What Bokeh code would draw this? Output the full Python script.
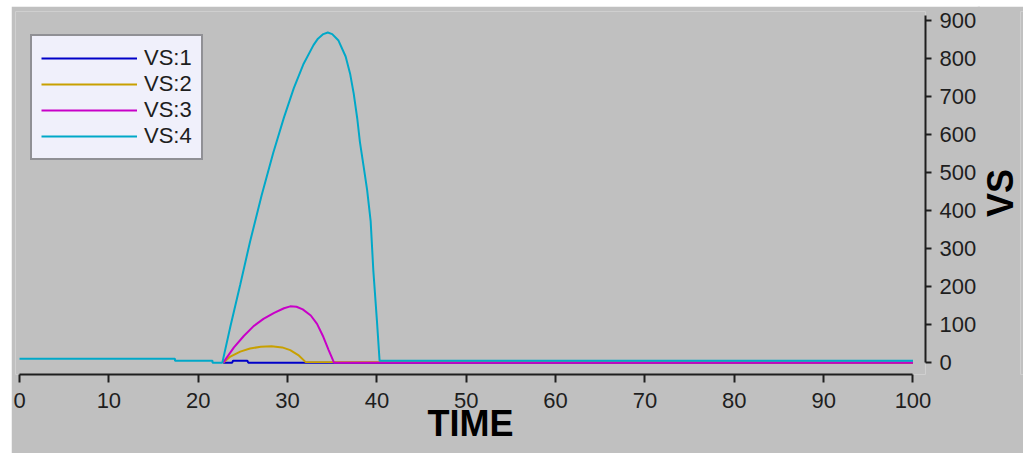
from bokeh.plotting import figure
from bokeh.layouts import row
from bokeh.models import Range1d, FixedTicker, Legend, LegendItem, Title
from bokeh.embed import file_html
from bokeh.resources import INLINE

# ---- data ----
t1 = [22.8, 23.8, 23.9, 25.5, 25.6, 100]
v1 = [0, 0, 5, 5, 0, 0]

t2 = [22.8, 23.6, 24.7, 25.8, 27.0, 28.2, 29.4, 30.3, 31.2, 32.0, 100]
v2 = [0, 16, 29, 37, 42, 43, 40, 33, 20, 2, 0]

t3 = [22.8, 24.0, 25.1, 26.2, 27.3, 28.5, 29.6, 30.3, 31.0, 31.7, 32.6, 33.3, 34.0, 34.6, 35.2, 100]
v3 = [0, 40, 70, 96, 115, 131, 143, 148, 147, 140, 124, 102, 68, 33, 0, 0]

t4 = [0, 17.4, 17.4, 21.6, 21.6, 22.7, 23.6, 24.7, 25.8, 27.1, 28.4, 29.6, 30.7, 31.8,
      32.9, 33.4, 34.0, 34.5, 35.0, 35.7, 36.5, 37.0, 37.4, 37.8, 38.1, 38.5, 38.9,
      39.3, 39.6, 40.0, 40.3, 100]
v4 = [10, 10, 5, 5, 0, 0, 95, 205, 318, 440, 552, 645, 722, 786,
      835, 852, 864, 868, 864, 847, 805, 760, 708, 642, 580, 518, 455,
      372, 242, 111, 5, 5]

series_names = ["VS:1", "VS:2", "VS:3", "VS:4"]
series_colors = ["#0000c8", "#c8a000", "#c800c8", "#00a8c8"]

x_ticks = [0, 10, 20, 30, 40, 50, 60, 70, 80, 90, 100]
y_ticks = [0, 100, 200, 300, 400, 500, 600, 700, 800, 900]
x_title = "TIME"
y_title = "VS"

GREY = "#c0c0c0"
INK = "#1e1e1e"
FONT = "Liberation Sans"

fig = figure(width=969, height=447, margin=(6, 0, 0, 11),
             x_range=Range1d(-0.45, 101.4), y_range=Range1d(-31.2, 923.4),
             output_backend="svg", toolbar_location=None,
             y_axis_location="right",
             min_border_left=4, min_border_right=55, min_border_top=5, min_border_bottom=75,
             background_fill_color=GREY, border_fill_color=GREY,
             outline_line_color=None)
fig.grid.visible = False

renderers = []
for t, v, c in zip([t1, t2, t3, t4], [v1, v2, v3, v4], series_colors):
    r = fig.line(t, v, line_color=c, line_width=2)
    renderers.append(r)

# x axis
xa = fig.xaxis[0]
xa.bounds = (0, 100)
xa.ticker = FixedTicker(ticks=x_ticks)
xa.major_tick_in = 0
xa.major_tick_out = 8
xa.minor_tick_line_color = None
xa.axis_line_width = 2
xa.major_tick_line_width = 2
xa.axis_line_color = INK
xa.major_tick_line_color = INK
xa.major_label_text_font = FONT
xa.major_label_text_font_size = "22px"
xa.major_label_text_color = INK
xa.major_label_standoff = 10
xa.axis_label = x_title
xa.axis_label_text_font = FONT
xa.axis_label_text_font_style = "bold"
xa.axis_label_text_font_size = "36px"
xa.axis_label_text_color = "#000000"
xa.axis_label_standoff = -8

# y axis (right)
ya = fig.yaxis[0]
ya.bounds = (0, 914)
ya.ticker = FixedTicker(ticks=y_ticks)
ya.major_tick_in = 0
ya.major_tick_out = 6
ya.minor_tick_line_color = None
ya.axis_line_width = 2
ya.major_tick_line_width = 2
ya.axis_line_color = INK
ya.major_tick_line_color = INK
ya.major_label_text_font = FONT
ya.major_label_text_font_size = "22px"
ya.major_label_text_color = INK
ya.major_label_standoff = 8

legend = Legend(items=[LegendItem(label=n, renderers=[r]) for n, r in zip(series_names, renderers)],
                location=(15, 214))
legend.glyph_width = 96
legend.glyph_height = 26
legend.label_height = 26
legend.spacing = 0
legend.padding = 9
legend.margin = 0
legend.label_standoff = 7
legend.label_text_font = FONT
legend.label_text_font_size = "22px"
legend.label_text_color = INK
legend.background_fill_color = "#f0f0fb"
legend.background_fill_alpha = 1
legend.border_line_color = "#303030"
legend.border_line_width = 2
fig.add_layout(legend, "center")

# narrow strip at the right that carries the vertical "VS" axis title (reads bottom-to-top)
side = figure(width=46, height=447, margin=(6, 0, 0, -3),
              output_backend="svg", toolbar_location=None,
              x_axis_location=None, y_axis_location=None,
              min_border_left=0, min_border_right=0, min_border_top=5, min_border_bottom=79,
              background_fill_color=GREY, border_fill_color=GREY,
              outline_line_color=None)
side.grid.visible = False
side.add_layout(Title(text=y_title, align="center", standoff=0, offset=0,
                      text_font=FONT, text_font_style="bold", text_font_size="36px",
                      text_color="#000000"), "left")

p = row(fig, side, spacing=0)
open("out.html", "w").write(file_html(p, INLINE))
